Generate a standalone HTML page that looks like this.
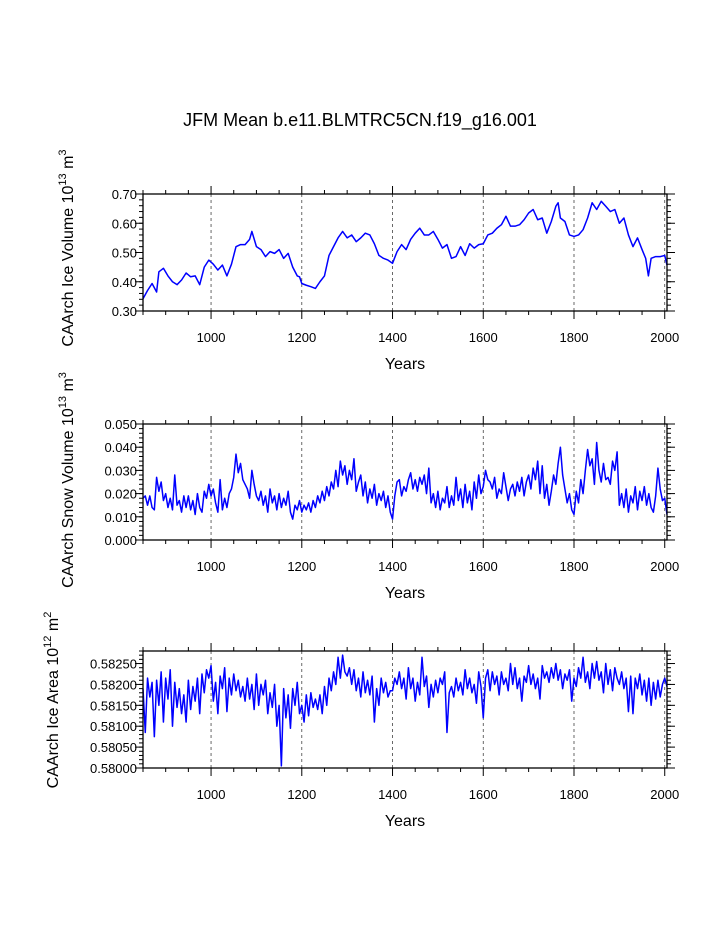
<!DOCTYPE html>
<html><head><meta charset="utf-8">
<style>
html,body{margin:0;padding:0;background:#fff;}
svg{display:block;font-family:"Liberation Sans",sans-serif;}
</style></head>
<body>
<svg id="chart" width="723" height="935" viewBox="0 0 723 935" xmlns="http://www.w3.org/2000/svg">
<text x="360" y="126" font-size="18" text-anchor="middle">JFM Mean b.e11.BLMTRC5CN.f19_g16.001</text>
</svg>
<script>
const iceYears=[850,860,870,880,885,895,905,915,925,935,945,955,965,975,985,995,1005,1015,1025,1035,1045,1055,1065,1075,1085,1090,1100,1110,1120,1130,1140,1150,1160,1170,1180,1190,1195,1200,1210,1220,1230,1240,1250,1260,1270,1280,1290,1300,1310,1320,1330,1340,1350,1360,1370,1380,1390,1400,1410,1420,1430,1440,1450,1460,1470,1480,1490,1500,1510,1520,1530,1540,1550,1560,1570,1580,1590,1600,1610,1620,1630,1640,1650,1660,1670,1680,1690,1700,1710,1720,1730,1740,1750,1760,1765,1770,1780,1790,1800,1810,1820,1830,1840,1850,1860,1870,1880,1890,1900,1910,1920,1930,1940,1950,1958,1964,1970,1980,1990,2000,2005];
const iceVolume=[0.342,0.37,0.394,0.365,0.434,0.446,0.42,0.40,0.39,0.406,0.43,0.417,0.42,0.39,0.45,0.474,0.46,0.44,0.457,0.42,0.46,0.52,0.527,0.527,0.545,0.572,0.52,0.51,0.486,0.503,0.497,0.51,0.48,0.497,0.45,0.42,0.417,0.394,0.388,0.383,0.377,0.40,0.42,0.49,0.52,0.55,0.572,0.55,0.56,0.537,0.55,0.566,0.56,0.53,0.49,0.48,0.474,0.463,0.503,0.527,0.51,0.545,0.566,0.583,0.56,0.56,0.572,0.545,0.515,0.527,0.48,0.486,0.52,0.49,0.53,0.515,0.527,0.53,0.56,0.566,0.583,0.595,0.624,0.59,0.59,0.595,0.612,0.635,0.647,0.612,0.618,0.566,0.606,0.658,0.67,0.618,0.606,0.56,0.555,0.56,0.578,0.618,0.67,0.647,0.675,0.658,0.64,0.647,0.60,0.618,0.56,0.52,0.55,0.51,0.48,0.42,0.48,0.486,0.486,0.49,0.457];
const snowStart=850, snowStep=5;
const snowVolume=[0.018,0.019,0.015,0.019,0.014,0.013,0.027,0.021,0.025,0.017,
0.020,0.014,0.018,0.013,0.028,0.015,0.017,0.012,0.019,0.014,
0.019,0.013,0.017,0.011,0.020,0.014,0.012,0.021,0.018,0.024,
0.019,0.022,0.016,0.012,0.026,0.013,0.018,0.014,0.020,0.022,
0.027,0.037,0.029,0.033,0.026,0.024,0.022,0.018,0.030,0.024,
0.019,0.017,0.021,0.015,0.019,0.012,0.022,0.016,0.019,0.013,
0.020,0.014,0.018,0.015,0.021,0.012,0.009,0.015,0.013,0.017,
0.012,0.015,0.013,0.016,0.012,0.017,0.014,0.019,0.016,0.021,
0.017,0.023,0.019,0.025,0.022,0.030,0.023,0.034,0.028,0.032,
0.024,0.030,0.026,0.035,0.021,0.025,0.028,0.019,0.025,0.016,
0.022,0.018,0.024,0.015,0.020,0.017,0.021,0.014,0.019,0.012,
0.009,0.019,0.025,0.026,0.019,0.023,0.021,0.026,0.029,0.022,
0.026,0.021,0.027,0.024,0.028,0.020,0.031,0.016,0.020,0.014,
0.021,0.013,0.018,0.016,0.023,0.014,0.019,0.015,0.027,0.017,
0.022,0.014,0.024,0.016,0.021,0.013,0.025,0.018,0.028,0.020,
0.023,0.030,0.026,0.025,0.022,0.027,0.018,0.022,0.020,0.029,
0.023,0.017,0.022,0.024,0.019,0.025,0.021,0.027,0.019,0.025,
0.028,0.022,0.031,0.026,0.034,0.020,0.032,0.018,0.024,0.015,
0.021,0.028,0.024,0.033,0.040,0.028,0.022,0.016,0.020,0.013,
0.011,0.021,0.016,0.026,0.020,0.030,0.039,0.032,0.035,0.024,
0.042,0.030,0.025,0.033,0.026,0.027,0.024,0.034,0.030,0.038,
0.015,0.020,0.014,0.022,0.012,0.019,0.016,0.023,0.013,0.021,
0.017,0.023,0.015,0.020,0.014,0.012,0.019,0.031,0.022,0.017,
0.018,0.011];
const areaStart=850, areaStep=5;
const iceArea=[.58190,.58085,.58215,.58170,.58205,.58075,.58210,.58150,.58230,.58110,
.58215,.58165,.58235,.58100,.58205,.58145,.58190,.58130,.58175,.58110,
.58210,.58140,.58195,.58160,.58215,.58130,.58225,.58180,.58235,.58215,
.58245,.58160,.58205,.58130,.58220,.58190,.58240,.58135,.58215,.58175,
.58225,.58185,.58210,.58170,.58195,.58160,.58215,.58165,.58200,.58140,
.58225,.58150,.58200,.58175,.58210,.58130,.58180,.58145,.58200,.58100,
.58150,.58005,.58190,.58120,.58175,.58095,.58190,.58150,.58205,.58130,
.58150,.58110,.58175,.58125,.58180,.58145,.58165,.58140,.58175,.58130,
.58195,.58150,.58215,.58185,.58230,.58200,.58265,.58215,.58270,.58230,
.58220,.58240,.58200,.58235,.58185,.58215,.58170,.58230,.58180,.58210,
.58175,.58220,.58110,.58190,.58150,.58215,.58180,.58205,.58170,.58185,
.58185,.58215,.58200,.58230,.58190,.58215,.58165,.58240,.58190,.58215,
.58160,.58205,.58175,.58265,.58195,.58220,.58145,.58200,.58170,.58210,
.58180,.58215,.58200,.58230,.58085,.58180,.58195,.58170,.58215,.58185,
.58205,.58175,.58235,.58190,.58215,.58180,.58200,.58155,.58230,.58195,
.58120,.58215,.58235,.58185,.58230,.58200,.58220,.58175,.58230,.58200,
.58215,.58185,.58250,.58200,.58240,.58190,.58215,.58160,.58220,.58205,
.58245,.58200,.58225,.58190,.58215,.58165,.58245,.58215,.58230,.58205,
.58240,.58215,.58250,.58210,.58235,.58190,.58225,.58210,.58235,.58160,
.58215,.58195,.58240,.58215,.58265,.58205,.58230,.58190,.58250,.58215,
.58255,.58210,.58230,.58180,.58250,.58200,.58235,.58185,.58240,.58215,
.58200,.58230,.58190,.58215,.58135,.58220,.58130,.58215,.58190,.58225,
.58175,.58210,.58160,.58215,.58150,.58205,.58165,.58210,.58170,.58200,
.58215,.58195];
const xTickLabels=["1000","1200","1400","1600","1800","2000"];
const ticks1=["0.30","0.40","0.50","0.60","0.70"];
const ticks2=["0.000","0.010","0.020","0.030","0.040","0.050"];
const ticks3=["0.58000","0.58050","0.58100","0.58150","0.58200","0.58250"];

const NS="http://www.w3.org/2000/svg";
const svg=document.getElementById('chart');
const X0=143,X1=667,XMIN=850,XMAX=2005;
function xs(v){return X0+(v-XMIN)/(XMAX-XMIN)*(X1-X0);}
function mk(tag,attrs,parent){const e=document.createElementNS(NS,tag);for(const k in attrs)e.setAttribute(k,attrs[k]);(parent||svg).appendChild(e);return e;}

function panel(p){
  const g=mk('g',{});
  
  
  const ys=v=>p.bot-(v-p.ymin)/(p.ymax-p.ymin)*(p.bot-p.top);
  // grid
  xTickLabels.forEach(t=>{const x=xs(+t);
    const l=mk('line',{x1:x,x2:x,y1:p.top,y2:p.bot,stroke:'#444','stroke-width':0.8,'stroke-dasharray':'3,3'},g);
    
    });
  // line
  let d='';
  p.xv.forEach((xv,i)=>{d+=(i?'L':'M')+xs(xv).toFixed(2)+','+ys(p.yv[i]).toFixed(2);});
  const path=mk('path',{d:d,fill:'none',stroke:'#0000ff','stroke-width':1.5,'stroke-linejoin':'round'},g);
  
  
  // frame
  const fr=mk('rect',{x:X0,y:p.top,width:X1-X0,height:p.bot-p.top,fill:'none',stroke:'#000','stroke-width':1.3},g);
  
  
  // x ticks
  for(let yr=850;yr<=2000;yr+=50){const x=xs(yr);const L=(yr%200===0)?8:4;
    mk('line',{x1:x,x2:x,y1:p.bot,y2:p.bot+L,stroke:'#000','stroke-width':1},g);
    mk('line',{x1:x,x2:x,y1:p.top,y2:p.top-L,stroke:'#000','stroke-width':1},g);}
  xTickLabels.forEach(t=>{const tx=mk('text',{x:xs(+t),y:p.bot+31,'font-size':13,'text-anchor':'middle'},g);tx.textContent=t;
    
    });
  const xt=mk('text',{x:405,y:p.bot+58,'font-size':16,'text-anchor':'middle'},g);xt.textContent='Years';
  
  
  // y ticks
  const nMaj=p.labels.length;
  for(let i=0;i<nMaj;i++){const v=p.ymin+i*p.step;const y=ys(v);
    mk('line',{x1:X0-8,x2:X0,y1:y,y2:y,stroke:'#000','stroke-width':1},g);
    mk('line',{x1:X1,x2:X1+8,y1:y,y2:y,stroke:'#000','stroke-width':1},g);
    const tx=mk('text',{x:X0-6,y:y+5,'font-size':13,'text-anchor':'end'},g);tx.textContent=p.labels[i];
    
    }
  for(let v=p.ymin;v<=p.ymax+1e-12;v+=p.step/5){const y=ys(v);
    mk('line',{x1:X0-4,x2:X0,y1:y,y2:y,stroke:'#000','stroke-width':1},g);
    mk('line',{x1:X1,x2:X1+4,y1:y,y2:y,stroke:'#000','stroke-width':1},g);}
  const yt=mk('text',{transform:`translate(${p.tx},${p.ty}) rotate(-90)`,'font-size':16,'text-anchor':'middle'},g);
  yt.innerHTML=p.title;
  
  
}
const snowX=snowVolume.map((_,i)=>snowStart+i*snowStep);
const areaX=iceArea.map((_,i)=>areaStart+i*areaStep);
panel({name:'ice-volume-panel',top:194,bot:311,ymin:0.30,ymax:0.70,step:0.1,labels:ticks1,xv:iceYears,yv:iceVolume,tx:73,ty:248,
  title:'CAArch Ice Volume 10<tspan font-size="11" dy="-7">13</tspan><tspan dy="7"> m</tspan><tspan font-size="11" dy="-7">3</tspan>'});
panel({name:'snow-volume-panel',top:424,bot:540,ymin:0,ymax:0.05,step:0.01,labels:ticks2,xv:snowX,yv:snowVolume,tx:73,ty:480,
  title:'CAArch Snow Volume 10<tspan font-size="11" dy="-7">13</tspan><tspan dy="7"> m</tspan><tspan font-size="11" dy="-7">3</tspan>'});
panel({name:'ice-area-panel',top:651,bot:768,ymin:0.58,ymax:0.5828,step:0.0005,labels:ticks3,xv:areaX,yv:iceArea,tx:58,ty:700,
  title:'CAArch Ice Area 10<tspan font-size="11" dy="-7">12</tspan><tspan dy="7"> m</tspan><tspan font-size="11" dy="-7">2</tspan>'});
</script>
</body></html>
